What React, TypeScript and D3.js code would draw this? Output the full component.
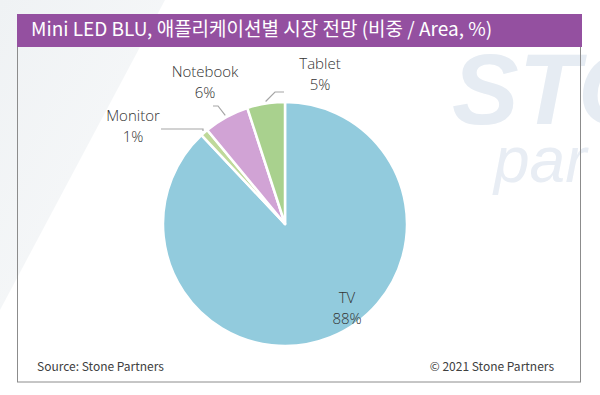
import { useEffect, useRef } from 'react'
import * as d3 from 'd3'

// Data (share of Mini LED BLU area, %)
const categories = ['TV', 'Monitor', 'Notebook', 'Tablet']
const shares = [88, 1, 6, 5]
const sliceColors = ['#92CBDD', '#BFD99A', '#D1A3D5', '#A9D18E']

const TITLE = 'Mini LED BLU, 애플리케이션별 시장 전망 (비중 / Area, %)'
const SOURCE = 'Source: Stone Partners'
const COPYRIGHT = '© 2021 Stone Partners'

const W = 600
const H = 395
const FONT = '"Noto Sans CJK KR", "Noto Sans", sans-serif'
const LABEL_FONT = '"Open Sans", "Noto Sans", sans-serif'

// label placement, relative to the pie centre (Excel "best fit" style)
// lx/ly: label centre / first baseline, ex/ey: leader elbow, end: leader end x
const labelLayout: Record<string, { lx: number; ly: number; ex?: number; ey?: number; end?: number }> = {
  TV: { lx: 62, ly: 79 },
  Monitor: { lx: -152, ly: -103, ex: -82, ey: -95, end: -124 },
  Notebook: { lx: -80, ly: -147, ex: -67, ey: -118, end: -72 },
  Tablet: { lx: 35, ly: -155, ex: -10, ey: -132, end: -1 },
}

export default function App() {
  const svgRef = useRef<SVGSVGElement>(null)

  useEffect(() => {
    if (!svgRef.current) return
    const svg = d3.select(svgRef.current)
    svg.selectAll('*').remove()

    // faint background diagonal
    const defs = svg.append('defs')
    const grad = defs.append('linearGradient').attr('id', 'bgfade').attr('x1', 0).attr('y1', 0).attr('x2', 1).attr('y2', 1)
    grad.append('stop').attr('offset', '0%').attr('stop-color', '#eff2f4')
    grad.append('stop').attr('offset', '100%').attr('stop-color', '#f9fafb')
    svg.append('polygon')
      .attr('points', '0,0 165,0 0,310')
      .attr('fill', 'url(#bgfade)')

    // watermark
    svg.append('text')
      .attr('x', 452).attr('y', 124)
      .attr('font-family', '"Liberation Sans", sans-serif')
      .attr('font-style', 'italic')
      .attr('font-weight', 'bold')
      .attr('font-size', 100)
      .attr('fill', '#e6ecf3')
      .text('STO')
    svg.append('text')
      .attr('x', 494).attr('y', 182)
      .attr('font-family', '"Liberation Sans", sans-serif')
      .attr('font-style', 'italic')
      .attr('font-size', 64)
      .attr('fill', '#e8edf4')
      .text('par')

    // frame
    const box = { x: 17.5, y: 46, w: 563, h: 336 }
    svg.append('rect')
      .attr('x', box.x).attr('y', box.y).attr('width', box.w).attr('height', box.h)
      .attr('fill', 'none').attr('stroke', '#8c8c8c').attr('stroke-width', 1)

    // title bar
    svg.append('rect')
      .attr('x', 17).attr('y', 14).attr('width', 565).attr('height', 33)
      .attr('fill', '#9450A0')
    svg.append('text')
      .attr('x', 31).attr('y', 36)
      .attr('font-family', FONT)
      .attr('font-size', 19)
      .attr('fill', '#ffffff')
      .text(TITLE)

    // pie
    const cx = 285
    const cy = 224
    const r = 122
    const pie = d3.pie<number>().sort(null).value((d) => d)
    const arcs = pie(shares)
    const arcGen = d3.arc<d3.PieArcDatum<number>>().innerRadius(0).outerRadius(r)
    const g = svg.append('g').attr('transform', `translate(${cx},${cy})`)

    g.selectAll('path.slice')
      .data(arcs)
      .join('path')
      .attr('class', 'slice')
      .attr('d', arcGen)
      .attr('fill', (_, i) => sliceColors[i])
      .attr('stroke', '#ffffff')
      .attr('stroke-width', 2.5)
      .attr('stroke-linejoin', 'round')

    // labels + leader lines
    arcs.forEach((a, i) => {
      const name = categories[i]
      const lay = labelLayout[name]
      if (lay.ex !== undefined && lay.ey !== undefined && lay.end !== undefined) {
        const mid = (a.startAngle + a.endAngle) / 2
        const sx = Math.sin(mid) * (r + 2)
        const sy = -Math.cos(mid) * (r + 2)
        g.append('polyline')
          .attr('points', `${sx},${sy} ${lay.ex},${lay.ey} ${lay.end},${lay.ey}`)
          .attr('fill', 'none')
          .attr('stroke', '#a6a6a6')
          .attr('stroke-width', 1.2)
      }
      const t = g.append('text')
        .attr('x', lay.lx)
        .attr('y', lay.ly)
        .attr('text-anchor', 'middle')
        .attr('font-family', LABEL_FONT)
        .attr('font-weight', 300)
        .attr('font-size', 15)
        .attr('fill', '#333333')
      t.append('tspan').attr('x', lay.lx).attr('dy', 0).text(name)
      t.append('tspan').attr('x', lay.lx).attr('dy', 21).text(`${shares[i]}%`)
    })

    // footer
    svg.append('text')
      .attr('x', 37).attr('y', 371)
      .attr('font-family', FONT)
      .attr('font-size', 12)
      .attr('fill', '#404040')
      .text(SOURCE)
    svg.append('text')
      .attr('x', 554).attr('y', 371)
      .attr('text-anchor', 'end')
      .attr('font-family', FONT)
      .attr('font-size', 12)
      .attr('fill', '#404040')
      .text(COPYRIGHT)
  }, [])

  return (
    <svg
      ref={svgRef}
      width={W}
      height={H}
      style={{ position: 'absolute', left: 0, top: 0, display: 'block', background: '#ffffff' }}
    />
  )
}
